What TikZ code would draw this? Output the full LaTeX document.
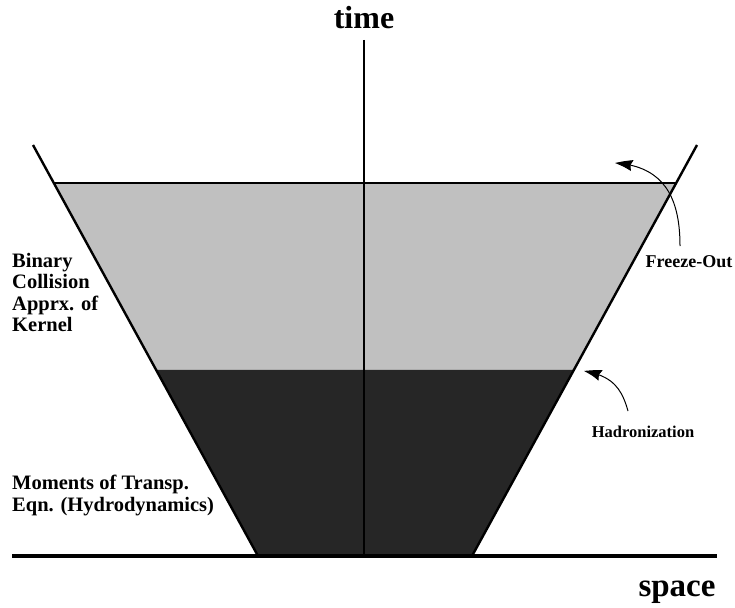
\documentclass[tikz,border=0pt]{standalone}
\usepackage{fontspec}
\setmainfont{Liberation Serif}
\usetikzlibrary{arrows.meta,calc,bending}
\definecolor{lightzone}{RGB}{192,192,192}
\definecolor{darkzone}{RGB}{38,38,38}
\begin{document}
\begin{tikzpicture}[x=1pt,y=-1pt,
  axislabel/.style={font=\fontsize{32}{36}\selectfont\bfseries, inner sep=0pt},
  sidelabel/.style={font=\fontsize{20.5}{21.5}\selectfont\bfseries, align=left, inner sep=0pt, anchor=north west},
  pointer/.style={line width=1pt, -{Stealth[length=18pt,width=11pt,inset=2pt,bend]}},
  smalllabel/.style={font=\bfseries, inner sep=0pt}]
\useasboundingbox (0,0) rectangle (735,607);
\coordinate (LT) at (33,145);
\coordinate (LB) at (258,556);
\coordinate (RT) at (697,145);
\coordinate (RB) at (472,556);
\coordinate (L1) at ($(LT)!0.0925!(LB)$);
\coordinate (R1) at ($(RT)!0.0925!(RB)$);
\coordinate (L2) at ($(LT)!0.5474!(LB)$);
\coordinate (R2) at ($(RT)!0.5474!(RB)$);
\fill[lightzone] (L1) -- (R1) -- (R2) -- (L2) -- cycle;
\fill[darkzone] (L2) -- (R2) -- (RB) -- (LB) -- cycle;
\draw[line width=1.5pt] (L1) -- (R1);
\coordinate (axtop) at (364,40);
\coordinate (axbot) at (364,556);
\draw[line width=1.4pt] (axtop) -- (axbot);
\draw[line width=2.4pt] (LT) -- (LB);
\draw[line width=2.4pt] (RT) -- (RB);
\coordinate (bl) at (12,556);
\coordinate (br) at (717,556);
\draw[line width=4pt] (bl) -- (br);
\node[axislabel] (time) at (364,18) {time};
\node[axislabel, font=\fontsize{33}{36}\selectfont\bfseries] (space) at (677,592) {space};
\node[sidelabel] (binary) at (12,253) {Binary\\Collision\\Apprx. of\\Kernel};
\node[sidelabel] (moments) at (12,475) {Moments of Transp.\\Eqn. (Hydrodynamics)};
\node[smalllabel, font=\fontsize{18}{20}\selectfont\bfseries] (freeze) at (689,262) {Freeze-Out};
\node[smalllabel, font=\fontsize{16.5}{19}\selectfont\bfseries] (hadron) at (643,432) {Hadronization};
\coordinate (fostart) at (680,246);
\coordinate (fotip) at (615,163);
\coordinate (hastart) at (628,411);
\coordinate (hatip) at (584,371);
\draw[pointer] (fostart) .. controls (680,195) and (662,166) .. (fotip);
\draw[pointer] (hastart) .. controls (622,390) and (614,376) .. (hatip);
\end{tikzpicture}
\end{document}
